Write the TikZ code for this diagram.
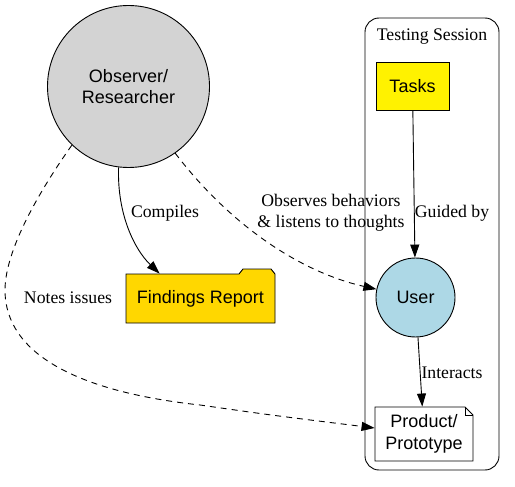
\documentclass[tikz,border=0pt]{standalone}
\usepackage{fontspec}
\setmainfont{Liberation Serif}
\newfontfamily\helv{Liberation Sans}
\usetikzlibrary{arrows.meta}
\definecolor{obsgray}{HTML}{D3D3D3}
\definecolor{ltblue}{HTML}{ADD8E6}
\definecolor{goldc}{HTML}{FFD700}
\begin{document}
\begin{tikzpicture}[x=1pt,y=-1pt,line width=0.9pt,
  nodefont/.style={font=\helv\fontsize{18}{21.5}\selectfont,align=center},
  lbl/.style={font=\fontsize{17.7}{20.5}\selectfont,align=center,inner sep=1pt},
  arr/.style={-{Triangle[length=13pt,width=9pt]}},
  dsh/.style={dash pattern=on 6pt off 5pt}]
\useasboundingbox (0,0) rectangle (515,487);
% cluster
\draw[rounded corners=14pt] (365,18) rectangle (499,470);
\node[lbl] (cl) at (432,37) {Testing Session};
% nodes
\node[circle,draw,fill=obsgray,minimum size=162pt,inner sep=0pt,nodefont] (observer) at (128.5,86.5) {Observer/\\Researcher};
\node[draw,fill=yellow,minimum width=73pt,minimum height=48pt,nodefont] (tasks) at (412.5,86) {Tasks};
\node[circle,draw,fill=ltblue,minimum size=79pt,inner sep=0pt,nodefont] (user) at (415.5,297.5) {User};
% findings folder
\path[draw,fill=goldc] (126,323) -- (126,274) -- (239,274) -- (243,269) -- (271,269) -- (275,274) -- (275,323) -- cycle;
\node[minimum width=149pt,minimum height=49pt,nodefont] (findings) at (200.5,298.5) {Findings Report};
% product note
\path[draw,fill=white] (375,461) -- (375,407) -- (465,407) -- (473,415) -- (473,461) -- cycle;
\draw (465,407) -- (465,415) -- (473,415);
\node[minimum width=98pt,minimum height=54pt,nodefont] (product) at (424,434) {Product/\\Prototype};
% edges
\draw[arr] (observer.263) .. controls (117,215) and (135,250) .. ([xshift=34pt]findings.north west);
\draw[arr,dsh] (observer.305) .. controls (230,225) and (300,272) .. (user.168);
\draw[arr,dsh] (observer.226) .. controls (40,190) and (5,250) .. (5,290)
   .. controls (5,355) and (80,392) .. (200,405)
   .. controls (270,415) .. ([yshift=6pt]product.west);
\draw[arr] (tasks) -- (user);
\draw[arr] (user) -- (product);
% labels
\node[lbl] (lcomp) at (165,213) {Compiles};
\node[lbl] (lobs) at (331,213) {Observes behaviors\\\& listens to thoughts};
\node[lbl] (lnotes) at (68,298) {Notes issues};
\node[lbl] (lguide) at (452,213) {Guided by};
\node[lbl] (linter) at (452,373) {Interacts};
\end{tikzpicture}
\end{document}
